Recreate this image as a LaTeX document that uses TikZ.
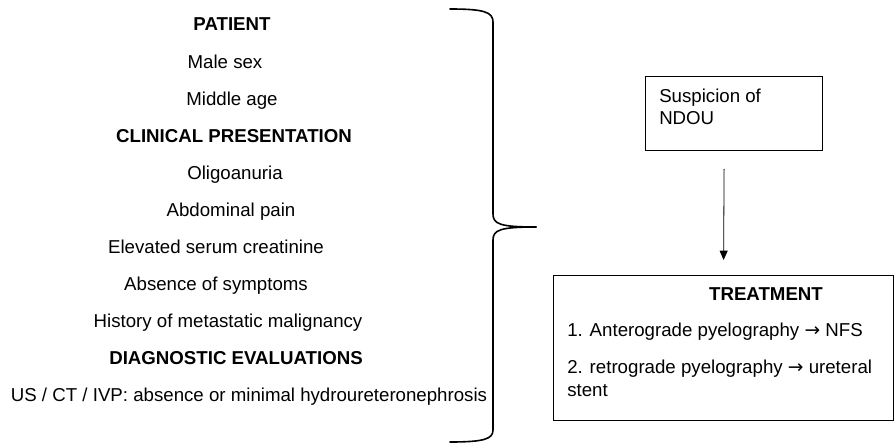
\documentclass[tikz,border=0pt]{standalone}
\usepackage{fontspec}
\setmainfont{Liberation Sans}
\newfontfamily\arrowfont{DejaVu Sans}
\newcommand\yields{{\arrowfont →}}
\usetikzlibrary{positioning,calc,arrows.meta}
\tikzset{
	entry/.style={inner sep=0pt,anchor=base,font=\fontsize{14}{16.5}\selectfont},
	heading/.style={entry,font=\fontsize{14}{16.5}\selectfont\bfseries},
	framebox/.style={draw,line width=0.9pt,inner sep=0pt,anchor=north west},
	brace/.style={line width=1.2pt,line cap=round}
}
\begin{document}
\begin{tikzpicture}[x=0.75pt,y=-0.75pt,>={Triangle[length=7pt,width=6pt]}]
	\useasboundingbox (0,0) rectangle (894,446);
	% left column
	\node[heading] (patient) at (232,31) {PATIENT};
	\node[entry] (sex) at (225,68) {Male sex};
	\node[entry] (age) at (232,105) {Middle age};
	\node[heading] (clinic) at (234,142) {CLINICAL PRESENTATION};
	\node[entry] (oligo) at (235,179) {Oligoanuria};
	\node[entry] (pain) at (231,216) {Abdominal pain};
	\node[entry] (creat) at (216,253) {Elevated serum creatinine};
	\node[entry] (nosym) at (216,290) {Absence of symptoms};
	\node[entry] (hist) at (228,327) {History of metastatic malignancy};
	\node[heading] (diag) at (236,364) {DIAGNOSTIC EVALUATIONS};
	\node[entry] (imaging) at (249,401) {US / CT / IVP: absence or minimal hydroureteronephrosis};
	% brace
	\draw[brace] (450,9) .. controls (484,9) and (493,12) .. (493,22) -- (493,214)
		.. controls (493,224) and (500,227) .. (536,227);
	\draw[brace] (450,442) .. controls (484,442) and (493,439) .. (493,430) -- (493,240)
		.. controls (493,230) and (500,227) .. (536,227);
	% right side
	\node[framebox,minimum width=132.75pt,minimum height=55.5pt] (susp) at (645,76) {};
	\node[entry,anchor=north west,align=left] (susptext) at (659,88.5) {Suspicion of\\NDOU};
	\node[framebox,minimum width=255pt,minimum height=108.75pt] (treat) at (553,275) {};
	\node[heading] (treattitle) at (766,300) {TREATMENT};
	\node[entry,anchor=base west] (stepone) at (567,336) {1. Anterograde pyelography \yields{} NFS};
	\node[entry,anchor=north west,align=left,font=\fontsize{14}{17.25}\selectfont] (steptwo) at (567,359.5) {2. retrograde pyelography \yields{} ureteral\\stent};
	\draw[line width=0.6pt,->] ($(susp.south)+(-10,18)$) -- ($(treat.north)+(0,-15)$);
\end{tikzpicture}
\end{document}
